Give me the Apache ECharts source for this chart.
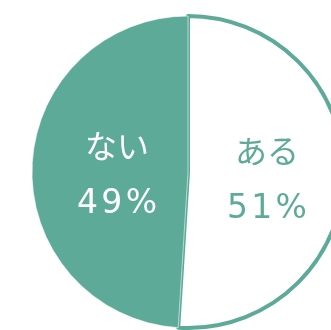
<!DOCTYPE html>
<html>
<head>
<meta charset="utf-8">
<script src="https://cdn.jsdelivr.net/npm/echarts@6/dist/echarts.min.js"></script>
<style>
html,body{margin:0;padding:0;background:#fff;}
#c{width:331px;height:330px;}
</style>
</head>
<body>
<div id="c"></div>
<script>
var categories = ['ある', 'ない'];
var values = [51, 49];

var TEAL = '#5eaa98';
var fills = ['#ffffff', TEAL];
var textColors = [TEAL, '#ffffff'];
var offsets = [[-2, 3], [10, 3]];

function spaced(s) { return s.split('').join('\u200A'); }

var data = categories.map(function (name, i) {
  return {
    name: name,
    value: values[i],
    itemStyle: i === 0
      ? { color: fills[i], borderColor: TEAL, borderWidth: 4 }
      : { color: fills[i], borderColor: 'rgba(255,255,255,0.55)', borderWidth: 1 },
    label: { color: textColors[i], offset: offsets[i],
      rich: {
        n: { color: textColors[i], fontFamily: 'Noto Sans CJK JP', fontSize: 32, lineHeight: 54 },
        p: { color: textColors[i], fontFamily: 'DejaVu Sans', fontSize: 33, lineHeight: 54, padding: [10, 0, 0, 0] }
      } }
  };
});

var chart = echarts.init(document.getElementById('c'), null, { renderer: 'canvas' });
chart.setOption({
  animation: false,
  series: [{
    type: 'pie',
    center: [188, 172],
    radius: [0, 156],
    startAngle: 90,
    clockwise: true,
    silent: true,
    avoidLabelOverlap: false,
    label: {
      show: true,
      position: 'inside',
      formatter: function (p) {
        return '{n|' + p.name + '}\n{p|' + spaced(Math.round(p.percent) + '%') + '}';
      }
    },
    labelLine: { show: false },
    data: data
  }]
});
</script>
</body>
</html>
